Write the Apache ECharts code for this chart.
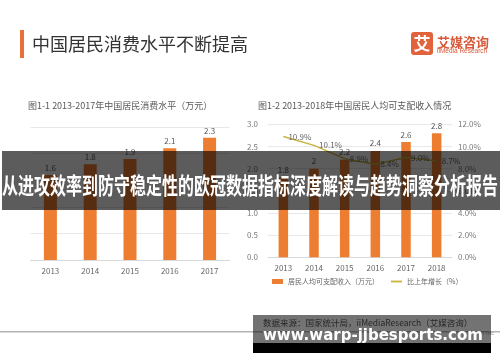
<!DOCTYPE html>
<html><head><meta charset="utf-8">
<script src="https://cdn.jsdelivr.net/npm/echarts@6/dist/echarts.min.js"></script>
<style>html,body{margin:0;padding:0;background:#fff}#c{width:500px;height:362px}</style>
</head><body><div id="c"></div>
<script>
// ---- data ----
const yearsA = ['2013', '2014', '2015', '2016', '2017'];
const consumption = [1.6, 1.8, 1.9, 2.1, 2.3];
const yearsB = ['2013', '2014', '2015', '2016', '2017', '2018'];
const income = [1.8, 2.0, 2.2, 2.4, 2.6, 2.8];
const growth = [10.9, 10.1, 8.9, 8.4, 9.0, 8.7];
const seriesNames = ['居民人均可支配收入（万元）', '比上年增长（%）'];
const mainTitle = '中国居民消费水平不断提高';
const titleA = '图1-1 2013-2017年中国居民消费水平（万元）';
const titleB = '图1-2 2013-2018年中国居民人均可支配收入情况';
const bannerText = '从进攻效率到防守稳定性的欧冠数据指标深度解读与趋势洞察分析报告';
const sourceText = '数据来源：国家统计局，iiMediaResearch（艾媒咨询）';
const watermark = 'www.warp-jjbesports.com';

const F = '"Noto Sans CJK SC", "Noto Sans", sans-serif';
const ORANGE = '#ED7D31';
const LINEC = '#C9B43C';

const chart = echarts.init(document.getElementById('c'), null, {renderer: 'canvas'});
chart.setOption({
  backgroundColor: '#fff',
  animation: false,
  textStyle: {fontFamily: F},
  title: [
    {text: mainTitle, left: 32, top: 35, padding: 0, textStyle: {fontSize: 18, lineHeight: 18, color: '#333', fontWeight: 'normal', fontFamily: F}},
    {text: titleA, left: 28, top: 101, padding: 0, textStyle: {fontSize: 9, lineHeight: 9, color: '#595959', fontWeight: 'normal', fontFamily: F}},
    {text: titleB, left: 258, top: 101, padding: 0, textStyle: {fontSize: 9, lineHeight: 9, color: '#595959', fontWeight: 'normal', fontFamily: F}}
  ],
  legend: {
    left: 272, top: 278, padding: 0, itemWidth: 11, itemHeight: 5, itemGap: 12,
    data: [
      {name: seriesNames[0], icon: 'rect', itemStyle: {color: ORANGE}},
      {name: seriesNames[1], icon: 'path://M0,0L12,0L12,2L0,2Z',
       itemStyle: {color: LINEC, borderWidth: 0, opacity: 1}, lineStyle: {color: LINEC, width: 0}}
    ],
    textStyle: {fontSize: 7, color: '#666', fontFamily: F}
  },
  grid: [
    {left: 30.5, top: 127, width: 199, height: 133},
    {left: 268, top: 124.3, width: 184, height: 133}
  ],
  xAxis: [
    {type: 'category', gridIndex: 0, data: yearsA, axisTick: {show: false},
     axisLine: {lineStyle: {color: '#d9d9d9'}},
     axisLabel: {fontSize: 8, color: '#666', margin: 6.5, fontFamily: F}},
    {type: 'category', gridIndex: 1, data: yearsB, axisTick: {show: false},
     axisLine: {lineStyle: {color: '#d9d9d9'}},
     axisLabel: {fontSize: 8, color: '#666', margin: 6.5, fontFamily: F}}
  ],
  yAxis: [
    {type: 'value', gridIndex: 0, min: 0, max: 2.5, interval: 0.5,
     axisLabel: {show: false}, axisLine: {show: false}, axisTick: {show: false},
     splitLine: {lineStyle: {color: '#e8e8e8'}}},
    {type: 'value', gridIndex: 1, min: 0, max: 3, interval: 0.5,
     axisLabel: {fontSize: 8, color: '#7a7a7a', margin: 10, formatter: v => v.toFixed(1), fontFamily: F},
     axisLine: {show: false}, axisTick: {show: false},
     splitLine: {lineStyle: {color: '#e8e8e8'}}},
    {type: 'value', gridIndex: 1, position: 'right', min: 0, max: 12, interval: 2,
     axisLabel: {fontSize: 8, color: '#7a7a7a', margin: 6, formatter: v => v.toFixed(1) + '%', fontFamily: F},
     axisLine: {show: false}, axisTick: {show: false}, splitLine: {show: false}}
  ],
  series: [
    {type: 'bar', name: 'consumption', xAxisIndex: 0, yAxisIndex: 0, data: consumption, barWidth: 13,
     itemStyle: {color: ORANGE},
     label: {show: true, position: 'top', distance: 3, fontSize: 8, color: '#555', fontFamily: F}},
    {type: 'bar', name: seriesNames[0], xAxisIndex: 1, yAxisIndex: 1, data: income, barWidth: 9.5,
     itemStyle: {color: ORANGE},
     label: {show: true, position: 'top', distance: 3.5, fontSize: 8, color: '#555', fontFamily: F}},
    {type: 'line', name: seriesNames[1], xAxisIndex: 1, yAxisIndex: 2, data: growth,
     symbol: 'circle', symbolSize: 0.1, showSymbol: true, z: 5,
     lineStyle: {color: LINEC, width: 1.5}, itemStyle: {color: LINEC},
     label: {show: true, position: 'right', distance: 5, fontSize: 8, color: '#666',
             formatter: p => p.value.toFixed(1) + '%', fontFamily: F}}
  ],
  graphic: [
    {type: 'rect', shape: {x: 20, y: 30, width: 4, height: 28}, style: {fill: '#E8703A'}, z: 10},
    // logo
    {type: 'rect', shape: {x: 411, y: 32, width: 22, height: 23, r: 3}, style: {fill: '#E0633C'}, z: 10},
    {type: 'text', style: {x: 422, y: 44, text: '艾', fill: '#fff', font: 'bold 17px ' + F, align: 'center', verticalAlign: 'middle'}, z: 11},
    {type: 'text', style: {x: 437, y: 42, text: '艾媒咨询', fill: '#D9593A', font: 'bold 13px ' + F, align: 'left', verticalAlign: 'middle'}, z: 10},
    {type: 'text', style: {x: 437, y: 51.5, text: 'iiMedia Research', fill: '#D9593A', font: '6.5px "Liberation Sans", sans-serif', align: 'left', verticalAlign: 'middle'}, z: 10},
    // bottom rule and source
    {type: 'rect', shape: {x: 0, y: 331, width: 500, height: 1.5}, style: {fill: '#b4b4b4'}, z: 10},
    {type: 'text', style: {x: 263, y: 322.5, text: sourceText, fill: '#555', font: '8.5px ' + F, align: 'left', verticalAlign: 'middle'}, z: 10},
    {type: 'text', style: {x: 481, y: 333.5, text: 'h Inc', fill: '#999', font: '6px "Liberation Sans", sans-serif', align: 'left', verticalAlign: 'middle'}, z: 10},
    {type: 'rect', shape: {x: 253, y: 315, width: 238, height: 28}, style: {fill: 'rgba(0,0,0,0.55)'}, z: 20},
    {type: 'rect', shape: {x: 253, y: 343, width: 238, height: 10}, style: {fill: '#000'}, z: 20},
    {type: 'text', style: {x: 263, y: 336.5, text: watermark, fill: '#fff', font: 'bold 15px "DejaVu Sans", sans-serif', align: 'left', verticalAlign: 'middle'}, z: 21},
    // banner
    {type: 'rect', shape: {x: 2, y: 151, width: 498, height: 59}, style: {fill: 'rgba(0,0,0,0.64)'}, z: 20},
    {type: 'text', x: 250, y: 185.8, scaleY: 1.4,
     style: {x: 0, y: 0, text: bannerText, fill: '#fff', font: 'bold 16px ' + F, align: 'center', verticalAlign: 'middle'}, z: 21}
  ]
});
</script></body></html>
